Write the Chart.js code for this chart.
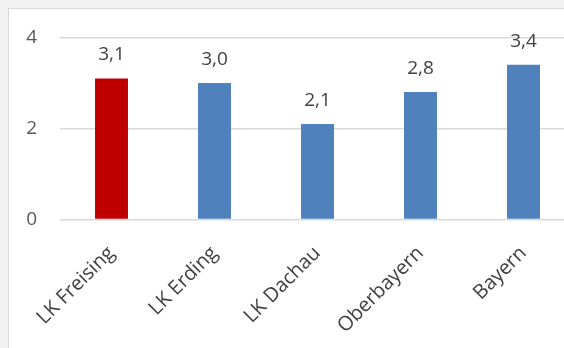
<!DOCTYPE html>
<html>
<head>
<meta charset="utf-8">
<script src="https://cdn.jsdelivr.net/npm/chart.js@4/dist/chart.umd.min.js"></script>
<style>
  html, body { margin: 0; padding: 0; overflow: hidden; background: #f2f2f2; }
  body { width: 564px; height: 348px; position: relative; }
  #frame {
    position: absolute; left: 8px; top: 8px; width: 600px; height: 400px;
    background: #ffffff; border-left: 1px solid #d9d9d9; border-top: 1px solid #d9d9d9;
  }
  #wrap { position: absolute; left: 9px; top: 9px; width: 566px; height: 339px; }
</style>
</head>
<body>
<div id="frame"></div>
<div id="wrap"><canvas id="chart"></canvas></div>
<script>
// Regions compared in the chart
const categories = ['LK Freising', 'LK Erding', 'LK Dachau', 'Oberbayern', 'Bayern'];
// Value per region
const values = [3.1, 3.0, 2.1, 2.8, 3.4];
// Y axis ticks
const yTicks = [0, 2, 4];
// Highlighted region is drawn in red, the others in blue
const barColors = ['#C00000', '#4F81BD', '#4F81BD', '#4F81BD', '#4F81BD'];

const FONT = '"Open Sans", "Liberation Sans", sans-serif';

// Writes each bar's value above it, with a decimal comma
const valueLabels = {
  id: 'valueLabels',
  afterDatasetsDraw(chart) {
    const ctx = chart.ctx;
    const meta = chart.getDatasetMeta(0);
    ctx.save();
    ctx.font = '19px ' + FONT;
    ctx.fillStyle = '#404040';
    ctx.textAlign = 'center';
    ctx.textBaseline = 'alphabetic';
    meta.data.forEach((bar, i) => {
      const v = chart.data.datasets[0].data[i];
      ctx.fillText(v.toFixed(1).replace('.', ','), bar.x, bar.y - 18);
    });
    ctx.restore();
  }
};

new Chart(document.getElementById('chart'), {
  type: 'bar',
  data: {
    labels: categories,
    datasets: [{
      data: values,
      backgroundColor: barColors,
      borderWidth: 0,
      categoryPercentage: 1.0,
      barPercentage: 0.32
    }]
  },
  options: {
    responsive: true,
    maintainAspectRatio: false,
    animation: false,
    layout: { padding: { top: 28.5, right: 0, bottom: 0, left: 0 } },
    plugins: { legend: { display: false }, tooltip: { enabled: false } },
    scales: {
      y: {
        min: 0,
        max: 4,
        afterBuildTicks(scale) { scale.ticks = yTicks.map(v => ({ value: v })); },
        afterFit(scale) {
          scale.width = 51;
          // the label gap should not push the plot area down
          scale.paddingTop = 0;
          scale.paddingBottom = 0;
        },
        border: { display: false },
        grid: { color: '#d9d9d9', lineWidth: 1.5, drawTicks: false },
        ticks: {
          padding: 23,
          color: '#595959',
          font: { family: FONT, size: 19 }
        }
      },
      x: {
        afterFit(scale) { scale.height = 128.5; },
        border: { display: false },
        grid: { display: false, drawTicks: false },
        ticks: {
          minRotation: 45,
          maxRotation: 45,
          padding: 22,
          color: '#404040',
          font: { family: FONT, size: 20 }
        }
      }
    }
  },
  plugins: [valueLabels]
});
</script>
</body>
</html>
